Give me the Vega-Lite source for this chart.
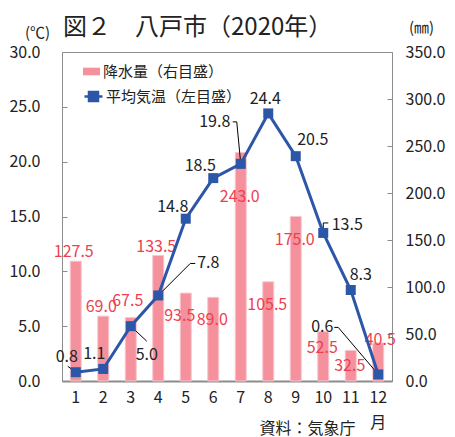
{
  "$schema": "https://vega.github.io/schema/vega-lite/v6.json",
  "width": 330,
  "height": 329,
  "autosize": {"type": "none"},
  "padding": {"left": 62, "top": 52, "right": 63, "bottom": 56},
  "background": "white",
  "title": {"text": "図２　八戸市（2020年）", "anchor": "start", "frame": "group", "fontSize": 24, "font": "Noto Sans CJK JP", "fontWeight": "normal", "color": "#222222", "offset": 12, "dx": 1, "dy": 32},
  "config": {
    "font": "Noto Sans CJK JP",
    "view": {"stroke": "#8c8c8c", "strokeWidth": 1},
    "axis": {"grid": false, "labelFont": "Noto Sans CJK JP", "titleFont": "Noto Sans CJK JP", "labelColor": "#222222", "titleColor": "#222222", "titleFontWeight": "normal"},
    "legend": {"labelFont": "Noto Sans CJK JP"}
  },
  "data": {"values": [
    {"month": 1, "precip": 127.5, "temp": 0.8},
    {"month": 2, "precip": 69.0, "temp": 1.1},
    {"month": 3, "precip": 67.5, "temp": 5.0},
    {"month": 4, "precip": 133.5, "temp": 7.8},
    {"month": 5, "precip": 93.5, "temp": 14.8},
    {"month": 6, "precip": 89.0, "temp": 18.5},
    {"month": 7, "precip": 243.0, "temp": 19.8},
    {"month": 8, "precip": 105.5, "temp": 24.4},
    {"month": 9, "precip": 175.0, "temp": 20.5},
    {"month": 10, "precip": 52.5, "temp": 13.5},
    {"month": 11, "precip": 32.5, "temp": 8.3},
    {"month": 12, "precip": 40.5, "temp": 0.6}
  ]},
  "layer": [
    {
      "layer": [
        {
          "mark": {"type": "bar", "width": {"band": 0.4}, "stroke": "#f9c6cc", "strokeWidth": 1},
          "encoding": {
            "x": {"field": "month", "type": "ordinal", "scale": {"paddingInner": 0, "paddingOuter": 0},
              "axis": {"title": "資料：気象庁", "labelAngle": 0, "ticks": false, "domainColor": "#8c8c8c", "domainWidth": 2, "labelFontSize": 16, "labelPadding": 8, "labelExpr": "datum.value == 12 ? ['12','月'] : datum.label", "labelLineHeight": 25, "titleFontSize": 16, "titleX": 245, "titleY": 47, "titleAlign": "center", "titleBaseline": "middle"}},
            "y": {"field": "precip", "type": "quantitative", "scale": {"domain": [0, 350], "nice": false, "zero": true},
              "axis": {"orient": "right", "title": "(㎜)", "titleAngle": 0, "titleX": 29, "titleY": -25, "titleAlign": "center", "titleBaseline": "middle", "titleFontSize": 15, "values": [0, 50, 100, 150, 200, 250, 300, 350], "format": ".1f", "domain": false, "tickSize": -5, "tickColor": "#8c8c8c", "labelPadding": 18, "labelFontSize": 16}},
            "fill": {"datum": "降水量（右目盛）", "scale": {"domain": ["降水量（右目盛）"], "range": ["#f4919c"]},
              "legend": {"orient": "none", "legendX": 21, "legendY": 11, "title": null, "padding": 0, "symbolType": "M-1,-0.45H1V0.45H-1Z", "symbolSize": 289, "symbolStrokeWidth": 0, "labelFontSize": 15, "labelColor": "#222222", "labelOffset": 3}}
          }
        },
        {
          "transform": [{"filter": {"field": "month", "oneOf": [1, 2, 4]}}],
          "mark": {"type": "text", "color": "#ee3f50", "fontSize": 16, "dx": -2, "dy": -9, "baseline": "middle", "align": "center"},
          "encoding": {"x": {"field": "month", "type": "ordinal"}, "y": {"field": "precip", "type": "quantitative"}, "text": {"field": "precip", "format": ".1f"}}
        },
        {
          "transform": [{"filter": {"field": "month", "oneOf": [3]}}],
          "mark": {"type": "text", "color": "#ee3f50", "fontSize": 16, "dx": -3, "dy": -17, "baseline": "middle", "align": "center"},
          "encoding": {"x": {"field": "month", "type": "ordinal"}, "y": {"field": "precip", "type": "quantitative"}, "text": {"field": "precip", "format": ".1f"}}
        },
        {
          "transform": [{"filter": {"field": "month", "oneOf": [5]}}],
          "mark": {"type": "text", "color": "#ee3f50", "fontSize": 16, "dx": -6, "dy": 23, "baseline": "middle", "align": "center"},
          "encoding": {"x": {"field": "month", "type": "ordinal"}, "y": {"field": "precip", "type": "quantitative"}, "text": {"field": "precip", "format": ".1f"}}
        },
        {
          "transform": [{"filter": {"field": "month", "oneOf": [6, 8, 9]}}],
          "mark": {"type": "text", "color": "#ee3f50", "fontSize": 16, "dx": -1, "dy": 23, "baseline": "middle", "align": "center"},
          "encoding": {"x": {"field": "month", "type": "ordinal"}, "y": {"field": "precip", "type": "quantitative"}, "text": {"field": "precip", "format": ".1f"}}
        },
        {
          "transform": [{"filter": {"field": "month", "oneOf": [7]}}],
          "mark": {"type": "text", "color": "#ee3f50", "fontSize": 16, "dx": -1, "dy": 44, "baseline": "middle", "align": "center"},
          "encoding": {"x": {"field": "month", "type": "ordinal"}, "y": {"field": "precip", "type": "quantitative"}, "text": {"field": "precip", "format": ".1f"}}
        },
        {
          "transform": [{"filter": {"field": "month", "oneOf": [10, 11]}}],
          "mark": {"type": "text", "color": "#ee3f50", "fontSize": 16, "dx": -1, "dy": 16, "baseline": "middle", "align": "center"},
          "encoding": {"x": {"field": "month", "type": "ordinal"}, "y": {"field": "precip", "type": "quantitative"}, "text": {"field": "precip", "format": ".1f"}}
        },
        {
          "transform": [{"filter": {"field": "month", "oneOf": [12]}}],
          "mark": {"type": "text", "color": "#ee3f50", "fontSize": 16, "dx": 2, "dy": -3, "baseline": "middle", "align": "center"},
          "encoding": {"x": {"field": "month", "type": "ordinal"}, "y": {"field": "precip", "type": "quantitative"}, "text": {"field": "precip", "format": ".1f"}}
        }
      ]
    },
    {
      "layer": [
        {
          "mark": {"type": "line", "strokeWidth": 3},
          "encoding": {
            "x": {"field": "month", "type": "ordinal"},
            "y": {"field": "temp", "type": "quantitative", "scale": {"domain": [0, 30], "nice": false, "zero": true},
              "axis": {"orient": "left", "title": "(℃)", "titleAngle": 0, "titleX": -25, "titleY": -20, "titleAlign": "center", "titleBaseline": "middle", "titleFontSize": 15, "values": [0, 5, 10, 15, 20, 25, 30], "format": ".1f", "domain": false, "tickSize": -5, "tickColor": "#8c8c8c", "labelPadding": 27, "labelFontSize": 16}},
            "stroke": {"datum": "平均気温（左目盛）", "scale": {"domain": ["平均気温（左目盛）"], "range": ["#2c56a8"]},
              "legend": {"orient": "none", "legendX": 21, "legendY": 34, "title": null, "padding": 0, "symbolType": "M-1,0H1M-0.5,-0.5H0.5V0.5H-0.5Z", "symbolSize": 324, "symbolStrokeWidth": 2.5, "labelFontSize": 15, "labelColor": "#222222", "labelOffset": 2, "encode": {"symbols": {"update": {"fill": {"value": "#2c56a8"}}}}}}
          }
        },
        {
          "transform": [{"filter": {"field": "month", "oneOf": [1]}}],
          "mark": {"type": "rule", "color": "#000000", "strokeWidth": 1, "x2Offset": -8, "y2Offset": -6},
          "encoding": {"x": {"field": "month", "type": "ordinal", "bandPosition": 0.5}, "x2": {"field": "month", "bandPosition": 0.5}, "y": {"field": "temp", "type": "quantitative"}, "y2": {"field": "temp"}}
        },
        {
          "transform": [{"filter": {"field": "month", "oneOf": [3]}}],
          "mark": {"type": "rule", "color": "#000000", "strokeWidth": 1, "x2Offset": 16, "y2Offset": 15},
          "encoding": {"x": {"field": "month", "type": "ordinal", "bandPosition": 0.5}, "x2": {"field": "month", "bandPosition": 0.5}, "y": {"field": "temp", "type": "quantitative"}, "y2": {"field": "temp"}}
        },
        {
          "transform": [{"filter": {"field": "month", "oneOf": [4]}}],
          "mark": {"type": "rule", "color": "#000000", "strokeWidth": 1, "x2Offset": 32, "y2Offset": -32},
          "encoding": {"x": {"field": "month", "type": "ordinal", "bandPosition": 0.5}, "x2": {"field": "month", "bandPosition": 0.5}, "y": {"field": "temp", "type": "quantitative"}, "y2": {"field": "temp"}}
        },
        {
          "transform": [{"filter": {"field": "month", "oneOf": [4]}}],
          "mark": {"type": "rule", "color": "#000000", "strokeWidth": 1, "xOffset": 32, "yOffset": -32, "x2Offset": 37, "y2Offset": -32},
          "encoding": {"x": {"field": "month", "type": "ordinal", "bandPosition": 0.5}, "x2": {"field": "month", "bandPosition": 0.5}, "y": {"field": "temp", "type": "quantitative"}, "y2": {"field": "temp"}}
        },
        {
          "transform": [{"filter": {"field": "month", "oneOf": [7]}}],
          "mark": {"type": "rule", "color": "#000000", "strokeWidth": 1, "x2Offset": -4, "y2Offset": -42},
          "encoding": {"x": {"field": "month", "type": "ordinal", "bandPosition": 0.5}, "x2": {"field": "month", "bandPosition": 0.5}, "y": {"field": "temp", "type": "quantitative"}, "y2": {"field": "temp"}}
        },
        {
          "transform": [{"filter": {"field": "month", "oneOf": [7]}}],
          "mark": {"type": "rule", "color": "#000000", "strokeWidth": 1, "xOffset": -8, "yOffset": -42, "x2Offset": -4, "y2Offset": -42},
          "encoding": {"x": {"field": "month", "type": "ordinal", "bandPosition": 0.5}, "x2": {"field": "month", "bandPosition": 0.5}, "y": {"field": "temp", "type": "quantitative"}, "y2": {"field": "temp"}}
        },
        {
          "transform": [{"filter": {"field": "month", "oneOf": [10]}}],
          "mark": {"type": "rule", "color": "#000000", "strokeWidth": 1, "x2Offset": 0, "y2Offset": -10},
          "encoding": {"x": {"field": "month", "type": "ordinal", "bandPosition": 0.5}, "x2": {"field": "month", "bandPosition": 0.5}, "y": {"field": "temp", "type": "quantitative"}, "y2": {"field": "temp"}}
        },
        {
          "transform": [{"filter": {"field": "month", "oneOf": [10]}}],
          "mark": {"type": "rule", "color": "#000000", "strokeWidth": 1, "xOffset": 0, "yOffset": -10, "x2Offset": 5, "y2Offset": -10},
          "encoding": {"x": {"field": "month", "type": "ordinal", "bandPosition": 0.5}, "x2": {"field": "month", "bandPosition": 0.5}, "y": {"field": "temp", "type": "quantitative"}, "y2": {"field": "temp"}}
        },
        {
          "transform": [{"filter": {"field": "month", "oneOf": [12]}}],
          "mark": {"type": "rule", "color": "#000000", "strokeWidth": 1, "x2Offset": -40, "y2Offset": -47},
          "encoding": {"x": {"field": "month", "type": "ordinal", "bandPosition": 0.5}, "x2": {"field": "month", "bandPosition": 0.5}, "y": {"field": "temp", "type": "quantitative"}, "y2": {"field": "temp"}}
        },
        {
          "transform": [{"filter": {"field": "month", "oneOf": [12]}}],
          "mark": {"type": "rule", "color": "#000000", "strokeWidth": 1, "xOffset": -44, "yOffset": -47, "x2Offset": -40, "y2Offset": -47},
          "encoding": {"x": {"field": "month", "type": "ordinal", "bandPosition": 0.5}, "x2": {"field": "month", "bandPosition": 0.5}, "y": {"field": "temp", "type": "quantitative"}, "y2": {"field": "temp"}}
        },
        {
          "mark": {"type": "point", "shape": "square", "filled": true, "size": 100, "color": "#2c56a8", "opacity": 1},
          "encoding": {"x": {"field": "month", "type": "ordinal"}, "y": {"field": "temp", "type": "quantitative"}}
        },
        {
          "transform": [{"filter": {"field": "month", "oneOf": [1, 2]}}],
          "mark": {"type": "text", "color": "#222222", "fontSize": 16, "dx": -9, "dy": -15, "baseline": "middle", "align": "center"},
          "encoding": {"x": {"field": "month", "type": "ordinal"}, "y": {"field": "temp", "type": "quantitative"}, "text": {"field": "temp", "format": ".1f"}}
        },
        {
          "transform": [{"filter": {"field": "month", "oneOf": [3]}}],
          "mark": {"type": "text", "color": "#222222", "fontSize": 16, "dx": 16, "dy": 29, "baseline": "middle", "align": "center"},
          "encoding": {"x": {"field": "month", "type": "ordinal"}, "y": {"field": "temp", "type": "quantitative"}, "text": {"field": "temp", "format": ".1f"}}
        },
        {
          "transform": [{"filter": {"field": "month", "oneOf": [4]}}],
          "mark": {"type": "text", "color": "#222222", "fontSize": 16, "dx": 50, "dy": -32, "baseline": "middle", "align": "center"},
          "encoding": {"x": {"field": "month", "type": "ordinal"}, "y": {"field": "temp", "type": "quantitative"}, "text": {"field": "temp", "format": ".1f"}}
        },
        {
          "transform": [{"filter": {"field": "month", "oneOf": [5, 6]}}],
          "mark": {"type": "text", "color": "#222222", "fontSize": 16, "dx": -13, "dy": -12, "baseline": "middle", "align": "center"},
          "encoding": {"x": {"field": "month", "type": "ordinal"}, "y": {"field": "temp", "type": "quantitative"}, "text": {"field": "temp", "format": ".1f"}}
        },
        {
          "transform": [{"filter": {"field": "month", "oneOf": [7]}}],
          "mark": {"type": "text", "color": "#222222", "fontSize": 16, "dx": -26, "dy": -42, "baseline": "middle", "align": "center"},
          "encoding": {"x": {"field": "month", "type": "ordinal"}, "y": {"field": "temp", "type": "quantitative"}, "text": {"field": "temp", "format": ".1f"}}
        },
        {
          "transform": [{"filter": {"field": "month", "oneOf": [8]}}],
          "mark": {"type": "text", "color": "#222222", "fontSize": 16, "dx": -3, "dy": -14, "baseline": "middle", "align": "center"},
          "encoding": {"x": {"field": "month", "type": "ordinal"}, "y": {"field": "temp", "type": "quantitative"}, "text": {"field": "temp", "format": ".1f"}}
        },
        {
          "transform": [{"filter": {"field": "month", "oneOf": [9]}}],
          "mark": {"type": "text", "color": "#222222", "fontSize": 16, "dx": 17, "dy": -16, "baseline": "middle", "align": "center"},
          "encoding": {"x": {"field": "month", "type": "ordinal"}, "y": {"field": "temp", "type": "quantitative"}, "text": {"field": "temp", "format": ".1f"}}
        },
        {
          "transform": [{"filter": {"field": "month", "oneOf": [10]}}],
          "mark": {"type": "text", "color": "#222222", "fontSize": 16, "dx": 24, "dy": -8, "baseline": "middle", "align": "center"},
          "encoding": {"x": {"field": "month", "type": "ordinal"}, "y": {"field": "temp", "type": "quantitative"}, "text": {"field": "temp", "format": ".1f"}}
        },
        {
          "transform": [{"filter": {"field": "month", "oneOf": [11]}}],
          "mark": {"type": "text", "color": "#222222", "fontSize": 16, "dx": 10, "dy": -15, "baseline": "middle", "align": "center"},
          "encoding": {"x": {"field": "month", "type": "ordinal"}, "y": {"field": "temp", "type": "quantitative"}, "text": {"field": "temp", "format": ".1f"}}
        },
        {
          "transform": [{"filter": {"field": "month", "oneOf": [12]}}],
          "mark": {"type": "text", "color": "#222222", "fontSize": 16, "dx": -56, "dy": -47, "baseline": "middle", "align": "center"},
          "encoding": {"x": {"field": "month", "type": "ordinal"}, "y": {"field": "temp", "type": "quantitative"}, "text": {"field": "temp", "format": ".1f"}}
        }
      ]
    }
  ],
  "resolve": {"scale": {"y": "independent"}}
}
